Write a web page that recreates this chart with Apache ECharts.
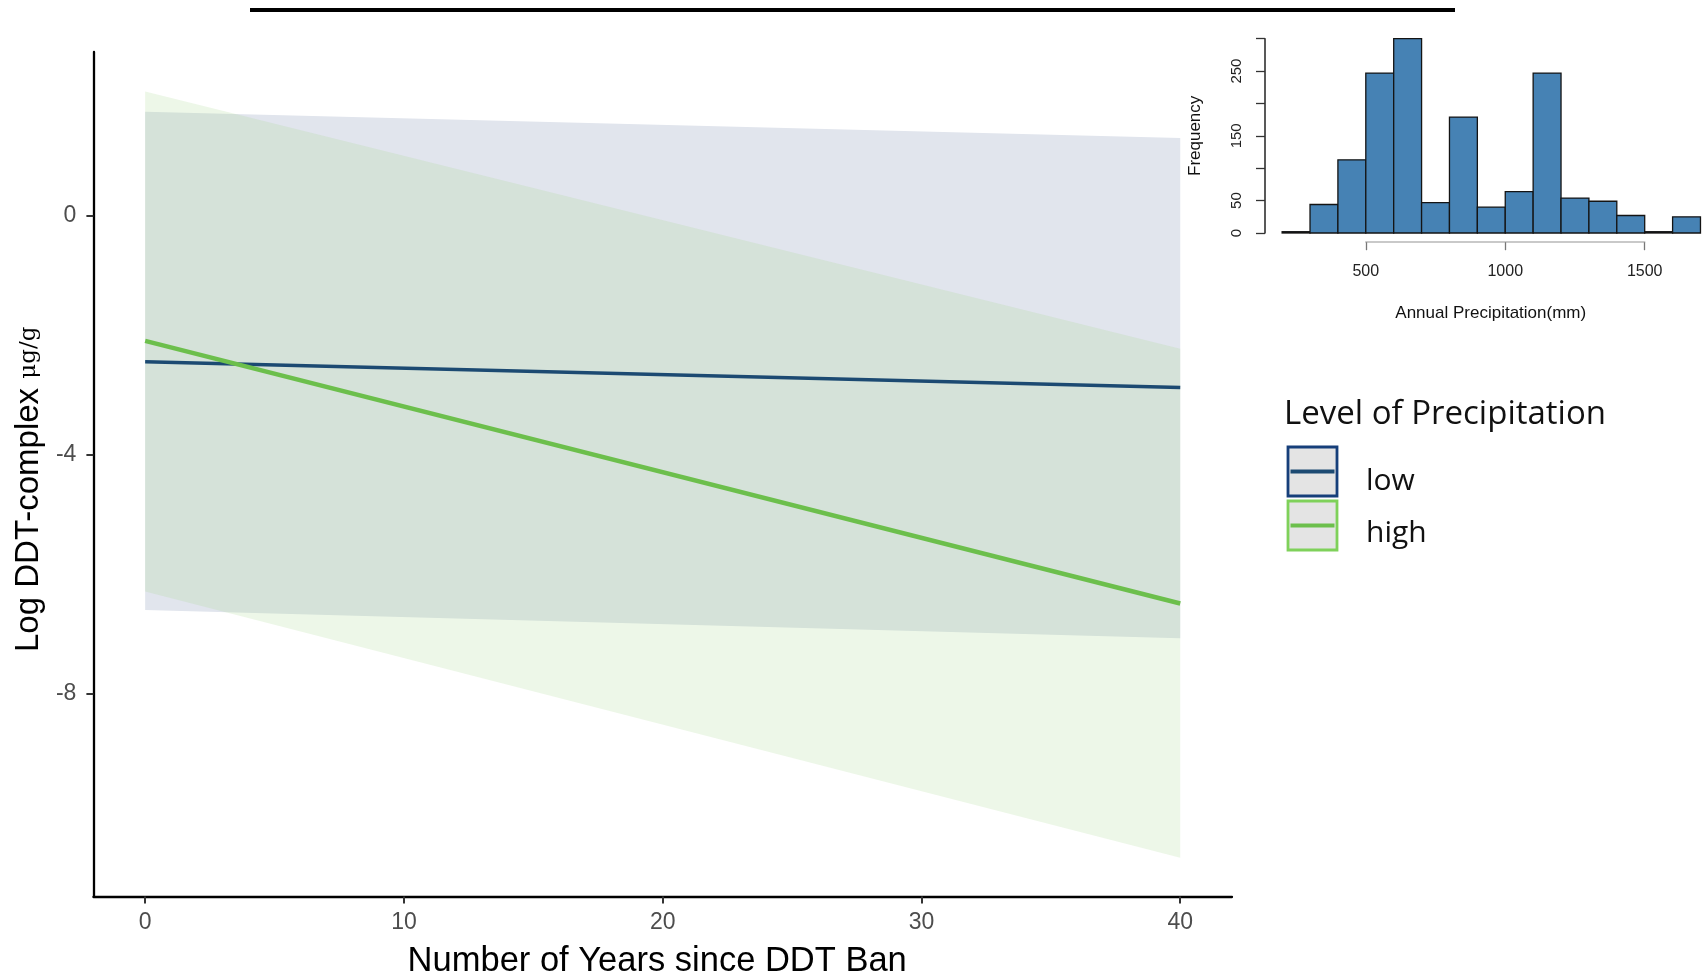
<!DOCTYPE html>
<html>
<head>
<meta charset="utf-8">
<style>
  html, body { margin: 0; padding: 0; background: #ffffff; }
  #chart { width: 1702px; height: 976px; }
</style>
<script src="https://cdn.jsdelivr.net/npm/echarts@6/dist/echarts.min.js"></script>
</head>
<body>
<div id="chart"></div>
<script>
// Fitted model: log DDT-complex vs years since the ban, by precipitation level
const years = [0, 40];
const lowFit = [-2.44, -2.87];
const lowUpper = [1.75, 1.31];
const lowLower = [-6.60, -7.07];
const highFit = [-2.09, -6.49];
const highUpper = [2.09, -2.22];
const highLower = [-6.29, -10.75];
const yearTicks = [0, 10, 20, 30, 40];
const logTicks = [-8, -4, 0];

// Annual precipitation histogram (100 mm bins)
const binStarts = [200, 300, 400, 500, 600, 700, 800, 900, 1000, 1100, 1200, 1300, 1400, 1500, 1600];
const binWidth = 100;
const binCounts = [2, 44, 113, 247, 300, 47, 179, 40, 64, 247, 54, 49, 27, 2, 25];
const freqLabels = [0, 50, 150, 250];

const legendItems = ['low', 'high'];
const lowColor = '#1c4a72';
const highColor = '#6cbf4c';

const axisFont = '"Liberation Sans", Arial, sans-serif';
const legendFont = '"Open Sans", "Noto Sans", sans-serif';

function bandItem(lo, hi) {
  return [years[0], lo[0], hi[0], years[1], lo[1], hi[1]];
}

function renderBand(params, api) {
  const a0 = api.coord([api.value(0), api.value(1)]);
  const a1 = api.coord([api.value(0), api.value(2)]);
  const b0 = api.coord([api.value(3), api.value(4)]);
  const b1 = api.coord([api.value(3), api.value(5)]);
  return {
    type: 'polygon',
    shape: { points: [a0, b0, b1, a1] },
    style: { fill: api.visual('color') }
  };
}

function renderBin(params, api) {
  const tl = api.coord([api.value(0), api.value(2)]);
  const br = api.coord([api.value(1), 0]);
  return {
    type: 'rect',
    shape: { x: tl[0], y: tl[1], width: br[0] - tl[0], height: br[1] - tl[1] },
    style: { fill: '#4682b4', stroke: '#141414', lineWidth: 1.3 }
  };
}

const histData = binStarts.map((s, i) => [s, s + binWidth, binCounts[i]]);

const chart = echarts.init(document.getElementById('chart'), null, { renderer: 'canvas' });

// Legend: title, key boxes with a line inside, labels
const legendGraphics = [];
legendGraphics.push({
  type: 'text', left: 1284, top: 398,
  style: { text: 'Level of Precipitation', font: '400 33px ' + legendFont, fill: '#111' }
});
legendItems.forEach((name, i) => {
  const y0 = 447 + i * 54;
  const col = i === 0 ? lowColor : highColor;
  legendGraphics.push({
    type: 'rect',
    shape: { x: 1288, y: y0, width: 49, height: 49 },
    style: { fill: '#e4e4e4', stroke: i === 0 ? '#163f7a' : '#7fd15a', lineWidth: 2.8 }
  });
  legendGraphics.push({
    type: 'line',
    shape: { x1: 1290.5, y1: y0 + 24.5, x2: 1334.5, y2: y0 + 24.5 },
    style: { stroke: col, lineWidth: 4 }
  });
  legendGraphics.push({
    type: 'text', left: 1366, top: 466.5 + i * 52,
    style: { text: name, font: '400 30px ' + legendFont, fill: '#111' }
  });
});

const option = {
  backgroundColor: '#ffffff',
  animation: false,
  grid: [
    { left: 93.4, right: 470, top: 52, bottom: 79.4, containLabel: false, outerBoundsMode: 'none' },
    { left: 1365.8, right: 57.3, top: 38.7, bottom: 743, containLabel: false, outerBoundsMode: 'none' }
  ],
  xAxis: [
    {
      gridIndex: 0, type: 'value', min: -2, max: 42,
      name: 'Number of Years since DDT Ban', nameLocation: 'middle', nameGap: 47,
      nameTextStyle: { fontFamily: axisFont, fontSize: 34.5, color: '#000', padding: [0, 11, 0, 0] },
      axisLine: { show: true, onZero: false, lineStyle: { color: '#000', width: 2.3 } },
      axisTick: { show: true, length: 7, customValues: yearTicks, lineStyle: { color: '#333', width: 2 } },
      axisLabel: { customValues: yearTicks, fontFamily: axisFont, fontSize: 23, color: '#4d4d4d', margin: 15 },
      splitLine: { show: false }
    },
    {
      gridIndex: 1, type: 'value', min: 500, max: 1500, interval: 500, offset: 9.2,
      name: 'Annual Precipitation(mm)', nameLocation: 'middle', nameGap: 63,
      nameTextStyle: { fontFamily: axisFont, fontSize: 17, color: '#111', padding: [0, 29, 0, 0] },
      axisLine: { show: true, onZero: false, lineStyle: { color: '#b8b8b8', width: 1.6 } },
      axisTick: { show: true, length: 8, lineStyle: { color: '#777', width: 1.3 } },
      axisLabel: { fontFamily: axisFont, fontSize: 16, color: '#222', margin: 21, formatter: v => String(v) },
      splitLine: { show: false }
    }
  ],
  yAxis: [
    {
      gridIndex: 0, type: 'value', min: -11.4, max: 2.75,
      name: '{m|Log DDT-complex }{u|μg/g}', nameLocation: 'middle', nameGap: 33, nameRotate: 90,
      nameTextStyle: {
        color: '#000', padding: [0, 30, 0, 0],
        rich: {
          m: { fontFamily: axisFont, fontSize: 33, color: '#000' },
          u: { fontFamily: '"DejaVu Serif", serif', fontSize: 23, color: '#000' }
        }
      },
      axisLine: { show: true, onZero: false, lineStyle: { color: '#000', width: 2.3 } },
      axisTick: { show: true, length: 7, customValues: logTicks, lineStyle: { color: '#333', width: 2 } },
      axisLabel: { customValues: logTicks, fontFamily: axisFont, fontSize: 23, color: '#4d4d4d', margin: 17 },
      splitLine: { show: false }
    },
    {
      gridIndex: 1, type: 'value', min: 0, max: 300, interval: 50, offset: 100.8,
      name: 'Frequency', nameLocation: 'middle', nameGap: 61, nameRotate: 90,
      nameTextStyle: { fontFamily: axisFont, fontSize: 17, color: '#111' },
      axisLine: { show: true, onZero: false, lineStyle: { color: '#222', width: 1.5 } },
      axisTick: { show: true, length: 9, lineStyle: { color: '#333', width: 1.3 } },
      axisLabel: { customValues: freqLabels, rotate: 90, fontFamily: axisFont, fontSize: 15, color: '#222', margin: 21 },
      splitLine: { show: false }
    }
  ],
  series: [
    {
      name: 'low band', type: 'custom', xAxisIndex: 0, yAxisIndex: 0,
      renderItem: renderBand, data: [bandItem(lowLower, lowUpper)],
      itemStyle: { color: 'rgb(225,229,237)' }, z: 1, silent: true
    },
    {
      name: 'high band', type: 'custom', xAxisIndex: 0, yAxisIndex: 0,
      renderItem: renderBand, data: [bandItem(highLower, highUpper)],
      itemStyle: { color: 'rgba(165,215,140,0.2)' }, z: 2, silent: true
    },
    {
      name: 'low', type: 'line', xAxisIndex: 0, yAxisIndex: 0,
      data: years.map((x, i) => [x, lowFit[i]]),
      symbol: 'none', lineStyle: { color: lowColor, width: 3.6 }, z: 3
    },
    {
      name: 'high', type: 'line', xAxisIndex: 0, yAxisIndex: 0,
      data: years.map((x, i) => [x, highFit[i]]),
      symbol: 'none', lineStyle: { color: highColor, width: 4.6 }, z: 4
    },
    {
      name: 'precipitation', type: 'custom', xAxisIndex: 1, yAxisIndex: 1,
      renderItem: renderBin, data: histData, clip: false, z: 5
    }
  ],
  graphic: [
    {
      type: 'line',
      shape: { x1: 250, y1: 10, x2: 1455, y2: 10 },
      style: { stroke: '#000', lineWidth: 4 }
    }
  ].concat(legendGraphics)
};

chart.setOption(option);
</script>
</body>
</html>
